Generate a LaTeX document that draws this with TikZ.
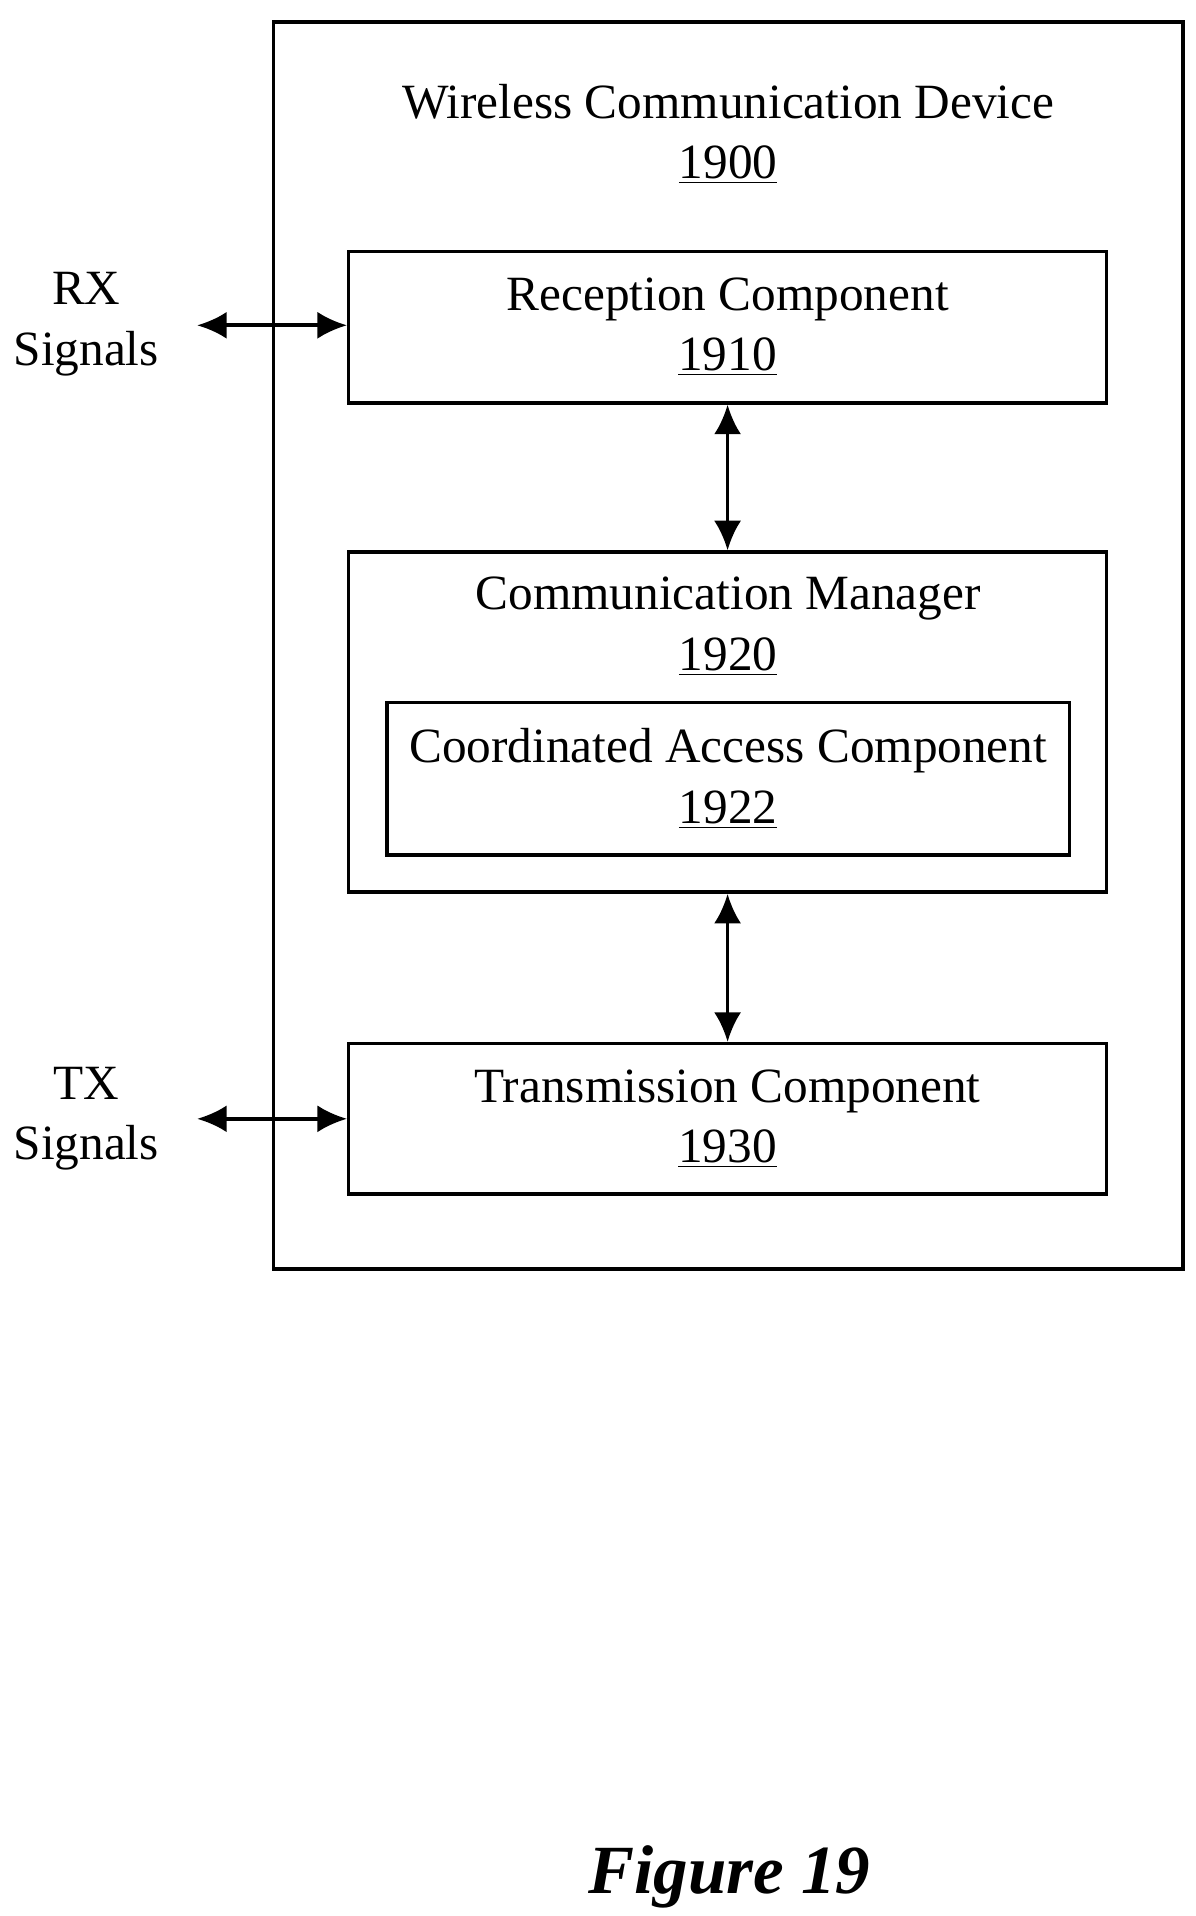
\documentclass[tikz,border=0pt]{standalone}
\usepackage{fontspec}
\setmainfont{Liberation Serif}
\usetikzlibrary{arrows.meta}
\usetikzlibrary{positioning}

\begin{document}
\begin{tikzpicture}[x=0.5pt,y=-0.5pt,
    blk/.style={draw=black,line width=1.4pt,rectangle,align=center,minimum width=307.5pt,inner sep=0pt},
    lbl/.style={align=center,font=\fontsize{20}{24.5}\selectfont},
    link/.style={line width=1.5pt,{Latex[length=12pt,width=11pt]}-{Latex[length=12pt,width=11pt]}}]
    \useasboundingbox (0,0) rectangle (970,1555);
    % outer device box
    \draw[line width=1.4pt] (222,18) rectangle (960,1030);
    \node[lbl] (dev) at (591,109) {Wireless Communication Device\\\underline{1900}};

    \node[blk,lbl,minimum height=61.5pt] (rx) at (590.5,265.5) {Reception Component\\\underline{1910}};
    \node[blk,minimum height=138pt] (cm) at (590.5,586) {};
    \node[lbl] (cmtxt) at (591,508.5) {Communication Manager\\\underline{1920}};
    \node[blk,lbl,minimum width=277pt,minimum height=62pt] (ca) at (591,632) {Coordinated Access Component\\\underline{1922}};
    \node[blk,lbl,minimum height=61pt] (tx) at (590.5,908) {Transmission Component\\\underline{1930}};

    \node[lbl] (rxsig) at (70,263) {RX\\Signals};
    \node[lbl] (txsig) at (70,908) {TX\\Signals};
    \coordinate (rxend) at (160,264);
    \coordinate (txend) at (160,908);

    \draw[link] (rxend) -- (rx.west |- rxend);
    \draw[link] (txend) -- (tx.west |- txend);
    \draw[link] (rx.south) -- (cm.north);
    \draw[link] (cm.south) -- (tx.north);

    \node[font=\fontsize{28}{32}\selectfont\bfseries\itshape] (fig) at (592,1523) {Figure 19};
\end{tikzpicture}
\end{document}
